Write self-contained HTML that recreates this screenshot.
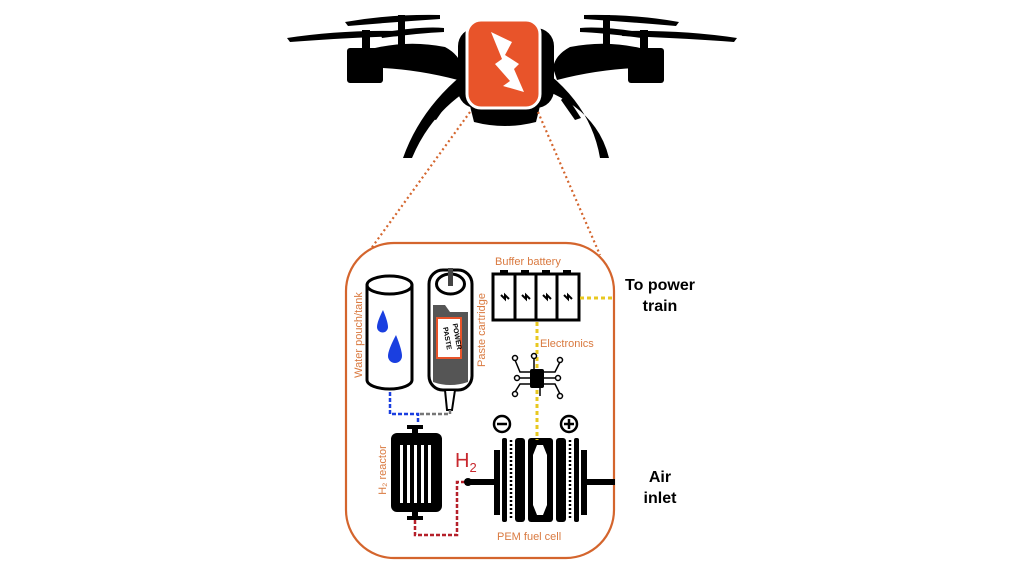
<!DOCTYPE html>
<html><head><meta charset="utf-8"><style>
html,body{margin:0;padding:0;background:#fff;width:1024px;height:563px;overflow:hidden}
svg{display:block}
text{font-family:"Liberation Sans",sans-serif}
</style></head><body>
<svg width="1024" height="563" viewBox="0 0 1024 563" xmlns="http://www.w3.org/2000/svg">
<!-- DRONE -->
<g fill="#000">
  <path d="M287 38 Q340 30 400 31 L402 36 Q340 38 290 42 Z"/>
  <path d="M345 22 Q390 14 440 15 L440 19 Q395 22 348 26 Z"/>
  <path d="M380 33 Q420 26 444 28 L444 32 Q420 33 382 38 Z"/>
  <rect x="398" y="15" width="7" height="35"/>
  <rect x="362" y="30" width="8" height="20"/>
  <rect x="347" y="48" width="36" height="35" rx="3"/>
  <path d="M375 48 Q410 40 445 47 Q460 55 462 68 L458 80 Q420 70 383 68 Z"/>
  <path d="M737 38 Q684 30 624 31 L622 36 Q684 38 734 42 Z"/>
  <path d="M679 22 Q634 14 584 15 L584 19 Q629 22 676 26 Z"/>
  <path d="M644 33 Q604 26 580 28 L580 32 Q604 33 642 38 Z"/>
  <rect x="603" y="15" width="7" height="35"/>
  <rect x="640" y="30" width="8" height="20"/>
  <rect x="628" y="48" width="36" height="35" rx="3"/>
  <path d="M640 48 Q605 40 570 47 Q555 55 553 68 L557 80 Q595 70 635 68 Z"/>
  <rect x="458" y="28" width="96" height="80" rx="18"/>
  <path d="M470 106 L540 106 L536 122 Q505 130 474 122 Z"/>
  <path d="M462 75 Q420 110 403 158 L412 158 Q430 115 468 90 Z"/>
  <path d="M550 75 Q592 110 600 158 L609 158 Q598 112 545 90 Z"/>
  <path d="M445 95 L430 118 L436 120 L450 100 Z"/>
  <path d="M566 95 L581 118 L575 120 L561 100 Z"/>
</g>
<rect x="467" y="20" width="73" height="88" rx="14" fill="#e8542a" stroke="#fff" stroke-width="3"/>
<path d="M491 32 L512 42 L505 55 L519 64 L514 69 L524 92 L503 86 L510 81 L495 64 L502 59 Z" fill="#fff"/>
<g stroke="#d4652d" stroke-width="2.2" stroke-dasharray="2 3" fill="none">
  <line x1="470" y1="112" x2="370" y2="250"/>
  <line x1="538" y1="112" x2="600" y2="255"/>
</g>
<rect x="346" y="243" width="268" height="315" rx="48" fill="none" stroke="#d4652d" stroke-width="2.2"/>

<!-- water cylinder -->
<path d="M367 285 L367 380 A22.5 9 0 0 0 412 380 L412 285" fill="#fff" stroke="#000" stroke-width="3"/>
<ellipse cx="389.5" cy="285" rx="22.5" ry="9" fill="#fff" stroke="#000" stroke-width="3"/>
<path d="M383 310 Q377 322 377 327 A5.5 5.5 0 0 0 388 327 Q388 322 383 310Z" fill="#1a3fe0"/>
<path d="M396 335 Q388 350 388 356 A7 7 0 0 0 402 356 Q402 350 396 335Z" fill="#1a3fe0"/>
<!-- paste cartridge -->
<rect x="429" y="270" width="43" height="120" rx="14" fill="#fff" stroke="#000" stroke-width="3"/>
<ellipse cx="450.5" cy="284" rx="14" ry="10" fill="#fff" stroke="#000" stroke-width="3"/>
<rect x="448" y="268" width="5" height="18" fill="#444"/>
<path d="M433 305 L445 305 L450 312 L468 312 L468 382 Q450 388 433 382 Z" fill="#555"/>
<rect x="437" y="318" width="24" height="40" fill="#fff" stroke="#e8542a" stroke-width="2"/>
<text x="449" y="332" font-size="7" font-weight="bold" text-anchor="middle" transform="rotate(80 449 338)">POWER</text>
<text x="449" y="342" font-size="7" font-weight="bold" text-anchor="middle" transform="rotate(80 449 338)">PASTE</text>
<path d="M445 390 L447 410 L452 410 L455 390 Z" fill="#fff" stroke="#000" stroke-width="2"/>
<text x="362" y="335" font-size="11" fill="#d9793f" text-anchor="middle" transform="rotate(-90 362 335)">Water pouch/tank</text>
<text x="485" y="330" font-size="11" fill="#d9793f" text-anchor="middle" transform="rotate(-90 485 330)">Paste cartridge</text>
<text x="386" y="470" font-size="11" fill="#d9793f" text-anchor="middle" transform="rotate(-90 386 470)">H₂ reactor</text>
<path d="M390 392 L390 414 L418 414 L418 424" fill="none" stroke="#1a3fe0" stroke-width="2.5" stroke-dasharray="4 2"/>
<path d="M420 414 L450 414 L450 410" fill="none" stroke="#777" stroke-width="2.5" stroke-dasharray="4 2"/>
<!-- reactor -->
<rect x="407" y="425" width="16" height="4" fill="#000"/>
<rect x="412" y="428" width="6" height="6" fill="#000"/>
<rect x="391" y="433" width="51" height="79" rx="6" fill="#000"/>
<g fill="#fff">
  <rect x="400" y="445" width="3" height="58"/><rect x="407" y="445" width="3" height="58"/>
  <rect x="414" y="445" width="3" height="58"/><rect x="421" y="445" width="3" height="58"/>
  <rect x="428" y="445" width="3" height="58"/>
</g>
<rect x="412" y="511" width="6" height="6" fill="#000"/>
<rect x="407" y="516" width="16" height="4" fill="#000"/>
<path d="M415 520 L415 535 L457 535 L457 482 L465 482" fill="none" stroke="#b5202a" stroke-width="2.5" stroke-dasharray="4 2"/>
<text x="455" y="467" font-size="20" fill="#c8282e">H<tspan font-size="13" dy="5">2</tspan></text>
<!-- fuel cell -->
<rect x="465" y="479" width="30" height="6" fill="#000"/>
<rect x="586" y="479" width="29" height="6" fill="#000"/>
<circle cx="468" cy="482" r="4" fill="#000"/>
<g fill="#000">
  <rect x="494" y="450" width="6" height="65"/>
  <rect x="502" y="438" width="5" height="84" rx="2"/>
  <rect x="515" y="438" width="10" height="84" rx="3"/>
  <rect x="528" y="438" width="25" height="84" rx="3"/>
  <rect x="556" y="438" width="10" height="84" rx="3"/>
  <rect x="574" y="438" width="5" height="84" rx="2"/>
  <rect x="581" y="450" width="6" height="65"/>
</g>
<path d="M537 445 L543 445 L547 455 L547 505 L543 515 L537 515 L533 505 L533 455 Z" fill="#fff"/>
<line x1="511" y1="440" x2="511" y2="520" stroke="#000" stroke-width="2.5" stroke-dasharray="2 2"/>
<line x1="570" y1="440" x2="570" y2="520" stroke="#000" stroke-width="2.5" stroke-dasharray="2 2"/>
<circle cx="502" cy="424" r="8" fill="#fff" stroke="#000" stroke-width="2.5"/>
<line x1="497" y1="424" x2="507" y2="424" stroke="#000" stroke-width="2.5"/>
<circle cx="569" cy="424" r="8" fill="#fff" stroke="#000" stroke-width="2.5"/>
<line x1="564" y1="424" x2="574" y2="424" stroke="#000" stroke-width="2.5"/>
<line x1="569" y1="419" x2="569" y2="429" stroke="#000" stroke-width="2.5"/>
<text x="497" y="540" font-size="11" fill="#d9793f">PEM fuel cell</text>
<!-- battery -->
<text x="495" y="265" font-size="11" fill="#d9793f">Buffer battery</text>
<rect x="493" y="274" width="86" height="46" fill="none" stroke="#000" stroke-width="3"/>
<g stroke="#000" stroke-width="3"><line x1="515" y1="274" x2="515" y2="320"/><line x1="536" y1="274" x2="536" y2="320"/><line x1="557" y1="274" x2="557" y2="320"/></g>
<g fill="#000"><rect x="500" y="270" width="8" height="4"/><rect x="521" y="270" width="8" height="4"/><rect x="542" y="270" width="8" height="4"/><rect x="563" y="270" width="8" height="4"/></g>
<g stroke="#000" stroke-width="2" fill="none">
  <path d="M501 295 L505 299 L505 295 L509 299"/><path d="M522 295 L526 299 L526 295 L530 299"/>
  <path d="M543 295 L547 299 L547 295 L551 299"/><path d="M564 295 L568 299 L568 295 L572 299"/>
</g>
<line x1="580" y1="298" x2="614" y2="298" stroke="#e8c820" stroke-width="3" stroke-dasharray="4 3"/>
<line x1="537" y1="322" x2="537" y2="368" stroke="#e8c820" stroke-width="3" stroke-dasharray="4 3"/>
<line x1="537" y1="390" x2="537" y2="440" stroke="#e8c820" stroke-width="3" stroke-dasharray="4 3"/>
<text x="540" y="347" font-size="11" fill="#d9793f">Electronics</text>
<g stroke="#000" stroke-width="1.5" fill="#fff">
  <path d="M530 372 L520 372 L515 360" fill="none"/><path d="M530 378 L518 378" fill="none"/>
  <path d="M530 384 L520 384 L515 392" fill="none"/><path d="M544 372 L555 372 L560 362" fill="none"/>
  <path d="M544 378 L556 378" fill="none"/><path d="M544 384 L555 384 L560 394" fill="none"/>
  <path d="M534 369 L534 358" fill="none"/><path d="M540 388 L540 396" fill="none"/>
  <circle cx="515" cy="358" r="2.5"/><circle cx="517" cy="378" r="2.5"/><circle cx="515" cy="394" r="2.5"/>
  <circle cx="560" cy="360" r="2.5"/><circle cx="558" cy="378" r="2.5"/><circle cx="560" cy="396" r="2.5"/>
  <circle cx="534" cy="356" r="2.5"/>
</g>
<rect x="530" y="369" width="14" height="19" rx="2" fill="#000"/>
<text x="660" y="290" font-size="16" font-weight="bold" text-anchor="middle">To power</text>
<text x="660" y="311" font-size="16" font-weight="bold" text-anchor="middle">train</text>
<text x="660" y="482" font-size="16" font-weight="bold" text-anchor="middle">Air</text>
<text x="660" y="503" font-size="16" font-weight="bold" text-anchor="middle">inlet</text>
</svg>
</body></html>
